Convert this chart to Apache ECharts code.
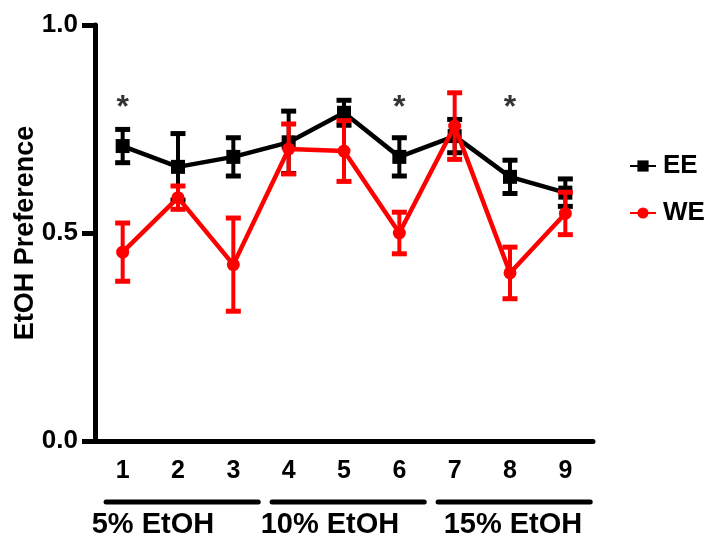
<!DOCTYPE html>
<html><head><meta charset="utf-8">
<script src="https://cdn.jsdelivr.net/npm/echarts@6/dist/echarts.min.js"></script>
<style>html,body{margin:0;padding:0;background:#fff}#c{width:706px;height:539px}</style>
</head><body><div id="c"></div>
<script>
const categories = ['1','2','3','4','5','6','7','8','9'];
const eeMean = [0.709, 0.659, 0.683, 0.718, 0.789, 0.683, 0.733, 0.635, 0.597];
const eeSem  = [0.040, 0.080, 0.046, 0.075, 0.030, 0.046, 0.040, 0.040, 0.033];
const weMean = [0.454, 0.585, 0.424, 0.702, 0.697, 0.500, 0.757, 0.404, 0.547];
const weSem  = [0.070, 0.028, 0.112, 0.060, 0.073, 0.050, 0.080, 0.062, 0.051];
const sigIndex = [0, 5, 7];
const sigValue = [0.80, 0.80, 0.80];
const yTicks = [0, 0.5, 1.0];
const groupLabels = ['5% EtOH', '10% EtOH', '15% EtOH'];
const groupStart = [0, 3, 6];
const groupEnd = [2, 5, 8];

const FONT = "'Liberation Sans',Arial,sans-serif";
const chart = echarts.init(document.getElementById('c'));

function errData(mean, sem){ return mean.map((m,i)=>[i, m-sem[i], m+sem[i]]); }
function errRender(color){
  return function(params, api){
    const x = api.value(0);
    const lo = api.coord([x, api.value(1)]);
    const hi = api.coord([x, api.value(2)]);
    const w = 7.5;
    const st = {stroke: color, lineWidth: 4};
    return {type:'group', children:[
      {type:'line', shape:{x1:lo[0],y1:lo[1],x2:hi[0],y2:hi[1]}, style:st},
      {type:'line', shape:{x1:lo[0]-w,y1:lo[1],x2:lo[0]+w,y2:lo[1]}, style:{stroke:color,lineWidth:5}},
      {type:'line', shape:{x1:hi[0]-w,y1:hi[1],x2:hi[0]+w,y2:hi[1]}, style:{stroke:color,lineWidth:5}}
    ]};
  };
}

chart.setOption({
  animation: false,
  backgroundColor: '#fff',
  grid: {left: 95, right: 113, top: 25, bottom: 98, containLabel: false, outerBoundsMode: 'none'},
  xAxis: {
    type: 'category', data: categories, boundaryGap: true,
    axisLine: {lineStyle: {color: '#000', width: 5}},
    axisTick: {alignWithLabel: true, length: 13, lineStyle: {color:'#000', width: 5}},
    axisLabel: {color:'#000', fontFamily: FONT, fontWeight:'bold', fontSize: 25, margin: 18},
    splitLine: {show:false}
  },
  yAxis: {
    type: 'value', min: 0, max: 1.0, interval: 0.5,
    name: 'EtOH Preference', nameLocation: 'middle', nameGap: 56, nameMoveOverlap: false,
    nameTextStyle: {color:'#000', fontFamily: FONT, fontWeight:'bold', fontSize: 27},
    axisLine: {show: true, lineStyle: {color:'#000', width: 5}},
    axisTick: {show: true, length: 13, lineStyle: {color:'#000', width: 5}},
    axisLabel: {color:'#000', fontFamily: FONT, fontWeight:'bold', fontSize: 26, margin: 17,
      formatter: v => yTicks.includes(v) ? v.toFixed(1) : ''},
    splitLine: {show:false}
  },
  legend: {
    orient: 'vertical', left: 624, top: 148, itemWidth: 26, itemHeight: 14, itemGap: 21,
    data: ['EE','WE'],
    textStyle: {color:'#000', fontFamily: FONT, fontWeight:'bold', fontSize: 26, padding:[0,0,0,2]}
  },
  series: [
    {name:'EE', type:'line', data: eeMean, symbol:'rect', symbolSize: 14,
     lineStyle:{color:'#000', width:4.5}, itemStyle:{color:'#000'}, z: 2},
    {name:'EE err', type:'custom', data: errData(eeMean, eeSem), renderItem: errRender('#000'), z: 2, encode:{x:0, y:[1,2]}},
    {name:'WE', type:'line', data: weMean, symbol:'circle', symbolSize: 13,
     lineStyle:{color:'#ff0000', width:4.5}, itemStyle:{color:'#ff0000'}, z: 3},
    {name:'WE err', type:'custom', data: errData(weMean, weSem), renderItem: errRender('#ff0000'), z: 3, encode:{x:0, y:[1,2]}},
    {name:'sig', type:'scatter', data: sigIndex.map((c,i)=>[c, sigValue[i]]), symbolSize: 0,
     label:{show:true, position:'inside', formatter:'*', color:'#000', fontFamily:FONT, fontWeight:'bold', fontSize: 32}, z: 4}
  ]
});

function drawGroups(){
  const px = i => chart.convertToPixel({xAxisIndex:0}, i);
  const step = px(1) - px(0);
  const textOff = [-31, -28, -11];
  const els = [];
  groupLabels.forEach((lab, g) => {
    const x1 = px(groupStart[g]) - 0.3*step;
    const x2 = px(groupEnd[g]) + 0.45*step;
    els.push({type:'line', shape:{x1:x1, y1:502, x2:x2, y2:502}, style:{stroke:'#000', lineWidth:5, lineCap:'round'}});
    els.push({type:'text', x: px(groupStart[g]) + textOff[g], y: 525,
      style:{text: lab, fill:'#000', font: "bold 29px " + FONT, textAlign:'left', textVerticalAlign:'middle'}});
  });
  chart.setOption({graphic: els});
}
drawGroups();
</script>
</body></html>
